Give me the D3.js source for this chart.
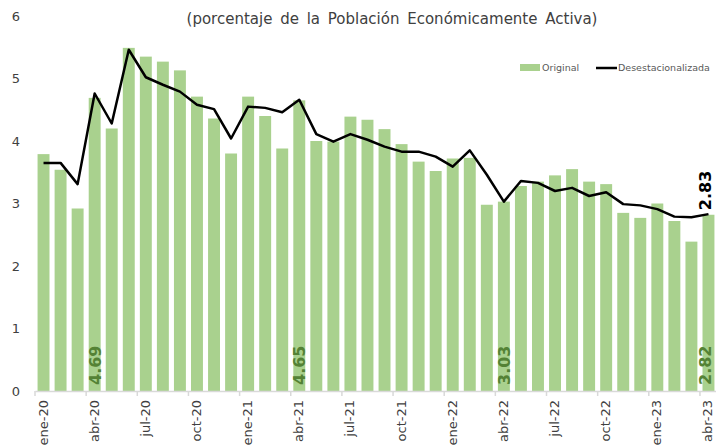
<!DOCTYPE html>
<html>
<head>
<meta charset="utf-8">
<script src="https://cdn.jsdelivr.net/npm/d3@7"></script>
<style>
	body { margin: 0; background: #fff; }
	text { font-family: "DejaVu Sans", sans-serif; }
</style>
</head>
<body>
<div id="chart"></div>
<script>

// months, ene-20 .. abr-23
var months = ["ene-20","feb-20","mar-20","abr-20","may-20","jun-20","jul-20","ago-20","sep-20","oct-20","nov-20","dic-20",
	"ene-21","feb-21","mar-21","abr-21","may-21","jun-21","jul-21","ago-21","sep-21","oct-21","nov-21","dic-21",
	"ene-22","feb-22","mar-22","abr-22","may-22","jun-22","jul-22","ago-22","sep-22","oct-22","nov-22","dic-22",
	"ene-23","feb-23","mar-23","abr-23"];

var original = [3.79, 3.54, 2.92, 4.69, 4.20, 5.49, 5.35, 5.27, 5.13, 4.71, 4.36, 3.80,
	4.71, 4.40, 3.88, 4.65, 4.00, 3.99, 4.39, 4.34, 4.19, 3.95, 3.67, 3.52,
	3.72, 3.73, 2.98, 3.03, 3.28, 3.35, 3.45, 3.55, 3.35, 3.31, 2.85, 2.77,
	3.00, 2.72, 2.39, 2.82];

var desest = [3.65, 3.65, 3.31, 4.76, 4.28, 5.46, 5.02, 4.90, 4.79, 4.58, 4.51, 4.04,
	4.55, 4.53, 4.46, 4.66, 4.11, 3.99, 4.11, 4.02, 3.91, 3.83, 3.83, 3.75,
	3.59, 3.85, 3.46, 3.03, 3.36, 3.33, 3.20, 3.25, 3.12, 3.18, 2.99, 2.97,
	2.91, 2.79, 2.78, 2.83];

// tick labels shown every 3 months
var tickMonths = ["ene-20","abr-20","jul-20","oct-20","ene-21","abr-21","jul-21","oct-21",
	"ene-22","abr-22","jul-22","oct-22","ene-23","abr-23"];
var yTicks = [0, 1, 2, 3, 4, 5, 6];

// labelled bars (abril of each year)
var labelled = ["abr-20", "abr-21", "abr-22", "abr-23"];

var title = "(porcentaje de la Población Económicamente Activa)";

var width = 716, height = 448;

var svg = d3.select("#chart")
	.append("svg")
	.attr("width", width)
	.attr("height", height);

var x = d3.scaleBand()
	.domain(months)
	.range([35, 35 + 17.05 * months.length])
	.paddingInner(0.3)
	.paddingOuter(0.15);

var y = d3.scaleLinear()
	.domain([0, 6])
	.range([391, 16]);

var last = months.length - 1;

// labels in the last column sit a bit left so they stay inside the frame
function labelShift(m) { return m === months[last] ? 3 : 6; }

// bars
svg.selectAll("rect.bar")
	.data(original)
	.enter().append("rect")
	.attr("class", "bar")
	.attr("x", function(d, i) { return x(months[i]); })
	.attr("width", x.bandwidth())
	.attr("y", function(d) { return y(d); })
	.attr("height", function(d) { return y(0) - y(d); })
	.attr("fill", "#a9d18e");

// x axis
var xAxis = svg.append("g")
	.attr("transform", "translate(0," + y(0) + ")")
	.call(d3.axisBottom(x).tickValues(tickMonths).tickSize(0).tickFormat(""));
xAxis.select(".domain").attr("stroke", "#d9d9d9").attr("stroke-width", 1.5);

// tick marks on category boundaries
svg.selectAll("line.xtick")
	.data(tickMonths)
	.enter().append("line")
	.attr("class", "xtick")
	.attr("x1", function(d) { return x(d) - x.step() * x.paddingInner() / 2; })
	.attr("x2", function(d) { return x(d) - x.step() * x.paddingInner() / 2; })
	.attr("y1", y(0))
	.attr("y2", y(0) + 5)
	.attr("stroke", "#d9d9d9")
	.attr("stroke-width", 1.5);

svg.selectAll("text.xlab")
	.data(tickMonths)
	.enter().append("text")
	.attr("class", "xlab")
	.attr("transform", function(d) {
		return "translate(" + (x(d) + x.bandwidth() / 2 + 4) + "," + (y(0) + 9) + ") rotate(-90)";
	})
	.attr("text-anchor", "end")
	.style("font-size", "13px")
	.attr("fill", "#404040")
	.text(function(d) { return d; });

// y axis labels
var yAxis = svg.append("g")
	.attr("transform", "translate(22,0)")
	.call(d3.axisLeft(y).tickValues(yTicks).tickSize(0).tickFormat(d3.format("d")));
yAxis.select(".domain").remove();
yAxis.selectAll("text")
	.style("font-size", "13px")
	.style("font-family", "DejaVu Sans, sans-serif")
	.attr("fill", "#404040")
	.attr("text-anchor", "middle")
	.attr("x", -6);

// seasonally adjusted line
var line = d3.line()
	.x(function(d, i) { return x(months[i]) + x.bandwidth() / 2; })
	.y(function(d) { return y(d); });

svg.append("path")
	.datum(desest)
	.attr("d", line)
	.attr("fill", "none")
	.attr("stroke", "#000")
	.attr("stroke-width", 2.5)
	.attr("stroke-linejoin", "round");

// green value labels at bar bottoms
svg.selectAll("text.vlab")
	.data(labelled)
	.enter().append("text")
	.attr("class", "vlab")
	.attr("transform", function(d) {
		return "translate(" + (x(d) + x.bandwidth() / 2 + labelShift(d)) + "," + (y(0) - 6) + ") rotate(-90)";
	})
	.style("font-size", "16px")
	.style("font-weight", "bold")
	.attr("fill", "#548235")
	.text(function(d) { return original[months.indexOf(d)].toFixed(2); });

// black label for the last line value
svg.append("text")
	.attr("transform", "translate(" + (x(months[last]) + x.bandwidth() / 2 + labelShift(months[last])) + "," + (y(desest[last]) - 4) + ") rotate(-90)")
	.style("font-size", "16px")
	.style("font-weight", "bold")
	.attr("fill", "#000")
	.text(desest[last].toFixed(2));

// title
svg.append("text")
	.attr("x", 392)
	.attr("y", 24)
	.attr("text-anchor", "middle")
	.style("font-size", "15px")
	.style("word-spacing", "3px")
	.attr("fill", "#404040")
	.text(title);

// legend
var legend = svg.append("g").attr("transform", "translate(520,68)");
legend.append("rect")
	.attr("x", 0).attr("y", -4)
	.attr("width", 20).attr("height", 7)
	.attr("fill", "#a9d18e");
legend.append("text")
	.attr("x", 22).attr("y", 3)
	.style("font-size", "9.5px")
	.attr("fill", "#595959")
	.text("Original");
legend.append("line")
	.attr("x1", 76).attr("x2", 97)
	.attr("y1", 0).attr("y2", 0)
	.attr("stroke", "#000").attr("stroke-width", 2.5);
legend.append("text")
	.attr("x", 98).attr("y", 3)
	.style("font-size", "9.5px")
	.attr("fill", "#595959")
	.text("Desestacionalizada");

</script>
</body>
</html>
